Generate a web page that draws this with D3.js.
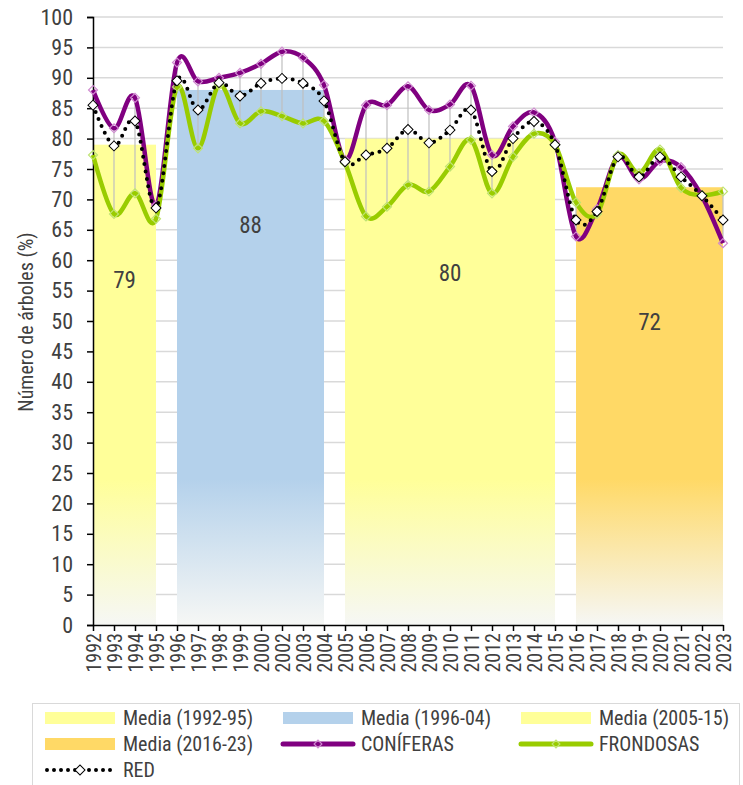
<!DOCTYPE html>
<html>
<head>
<meta charset="utf-8">
<script src="https://cdn.jsdelivr.net/npm/d3@7"></script>
<style>
  body { margin: 0; background: #fff; }
  svg text { font-family: "Liberation Sans Narrow", "Arial Narrow", "Roboto Condensed", sans-serif; fill: #404040; }
</style>
</head>
<body>
<svg id="chart" width="743" height="785"></svg>
<script>
// categories (no 2001 in the series)
var years = ["1992","1993","1994","1995","1996","1997","1998","1999","2000",
  "2002","2003","2004","2005","2006","2007","2008","2009","2010","2011","2012",
  "2013","2014","2015","2016","2017","2018","2019","2020","2021","2022","2023"];

var coniferas = [88, 81.7, 86.7, 69, 92.5, 89.4, 90, 90.8, 92.3,
  94.3, 93.3, 88.8, 76.5, 85.5, 85.5, 88.6, 84.7, 85.6, 88.7, 77.3,
  82, 84.3, 79.5, 63.9, 68.4, 77, 73.3, 76.3, 75.3, 70.5, 62.8];

var frondosas = [77.3, 67.6, 71, 66.8, 88.5, 78.4, 88.8, 82.5, 84.5,
  83.7, 82.5, 82.9, 76, 67.2, 68.8, 72.4, 71.3, 75.4, 79.8, 71,
  77, 80.8, 79, 69.5, 67.6, 77.3, 74.3, 78.2, 71.9, 70.7, 71.3];

var red = [85.5, 78.8, 82.9, 68.6, 89.5, 84.7, 89.2, 87, 89.1,
  89.9, 89.1, 86.2, 76.2, 77.3, 78.4, 81.5, 79.3, 81.4, 84.7, 74.6,
  80, 82.8, 79, 66.6, 68, 77, 73.7, 77, 73.7, 70.6, 66.6];

// period means
var mediaLabels = ["Media (1992-95)", "Media (1996-04)", "Media (2005-15)", "Media (2016-23)"];
var mediaValues = [79, 88, 80, 72];
var mediaStart = ["1992", "1996", "2005", "2016"];
var mediaEnd = ["1995", "2004", "2015", "2023"];
var mediaColors = ["#FFFF99", "#B4D1EB", "#FFFF99", "#FFD966"];

var yTicks = d3.range(0, 101, 5);

var svg = d3.select("#chart");

var x = d3.scalePoint().domain(years).range([93, 723]);
var y = d3.scaleLinear().domain([0, 100]).range([625, 17]);

// gradients for the mean blocks (solid on top, fading to white near the base)
var defs = svg.append("defs");
mediaColors.forEach(function(c, i) {
  var grad = defs.append("linearGradient")
    .attr("id", "grad" + i)
    .attr("gradientUnits", "userSpaceOnUse")
    .attr("x1", 0).attr("x2", 0)
    .attr("y1", y(24)).attr("y2", y(0));
  grad.append("stop").attr("offset", 0).attr("stop-color", c);
  grad.append("stop").attr("offset", 1).attr("stop-color", "#F6F7F5");
});

// gridlines
svg.append("g")
  .selectAll("line")
  .data(yTicks.slice(1))
  .join("line")
  .attr("x1", x(years[0])).attr("x2", x(years[years.length - 1]))
  .attr("y1", d => y(d)).attr("y2", d => y(d))
  .attr("stroke", "#D9D9D9").attr("stroke-width", 1.5);

// mean blocks
svg.append("g")
  .selectAll("rect")
  .data(mediaValues)
  .join("rect")
  .attr("x", (d, i) => x(mediaStart[i]))
  .attr("width", (d, i) => x(mediaEnd[i]) - x(mediaStart[i]))
  .attr("y", d => y(d))
  .attr("height", d => y(0) - y(d))
  .attr("fill", (d, i) => "url(#grad" + i + ")");

// mean labels
svg.append("g")
  .selectAll("text")
  .data(mediaValues)
  .join("text")
  .attr("x", (d, i) => (x(mediaStart[i]) + x(mediaEnd[i])) / 2)
  .attr("y", d => y(d - 22.5))
  .attr("text-anchor", "middle")
  .attr("dominant-baseline", "middle")
  .style("font-size", "23px")
  .text(d => d);

// high-low lines
svg.append("g")
  .selectAll("line")
  .data(years)
  .join("line")
  .attr("x1", d => x(d)).attr("x2", d => x(d))
  .attr("y1", (d, i) => y(Math.max(coniferas[i], frondosas[i], red[i])))
  .attr("y2", (d, i) => y(Math.min(coniferas[i], frondosas[i], red[i])))
  .attr("stroke", "#BFBFBF").attr("stroke-width", 1.2);

// axes
var yAxis = svg.append("g")
  .attr("transform", "translate(" + x(years[0]) + ",0)")
  .call(d3.axisLeft(y).tickValues(yTicks).tickSize(6).tickPadding(14));
yAxis.select(".domain").attr("stroke", "#000").attr("stroke-width", 1.5);
yAxis.selectAll(".tick line").attr("stroke", "#000").attr("stroke-width", 1.5);
yAxis.selectAll("text").style("font-size", "22px").attr("fill", "#404040");

var xAxis = svg.append("g")
  .attr("transform", "translate(0," + y(0) + ")")
  .call(d3.axisBottom(x).tickSize(6).tickSizeOuter(0));
xAxis.select(".domain").attr("stroke", "#000").attr("stroke-width", 1.5);
xAxis.selectAll(".tick line").attr("stroke", "#000").attr("stroke-width", 1.5);
xAxis.selectAll("text")
  .style("font-size", "20px").attr("fill", "#404040")
  .attr("text-anchor", "end")
  .attr("transform", "rotate(-90)")
  .attr("x", -8).attr("y", 0).attr("dy", "0.35em");

// axis title
svg.append("text")
  .attr("transform", "translate(28,322) rotate(-90)")
  .attr("text-anchor", "middle")
  .attr("dominant-baseline", "middle")
  .style("font-size", "20px")
  .text("Número de árboles (%)");

// series lines
var line = d3.line()
  .x((d, i) => x(years[i]))
  .y(d => y(d))
  .curve(d3.curveCatmullRom.alpha(0));

function diamond(g, data, size, stroke, fill, sw) {
  g.selectAll("path.mk")
    .data(data)
    .join("path")
    .attr("class", "mk")
    .attr("transform", (d, i) => "translate(" + x(years[i]) + "," + y(d) + ") rotate(45)")
    .attr("d", d3.symbol(d3.symbolSquare, size)())
    .attr("fill", fill).attr("stroke", stroke).attr("stroke-width", sw);
}

var gCon = svg.append("g");
gCon.append("path").attr("d", line(coniferas))
  .attr("fill", "none").attr("stroke", "#800080").attr("stroke-width", 4.5);
diamond(gCon, coniferas, 40, "#D08AD0", "none", 1.2);

var gFro = svg.append("g");
gFro.append("path").attr("d", line(frondosas))
  .attr("fill", "none").attr("stroke", "#99CC00").attr("stroke-width", 4.5);
diamond(gFro, frondosas, 40, "#BFE373", "none", 1.2);

var gRed = svg.append("g");
gRed.append("path").attr("d", line(red))
  .attr("fill", "none").attr("stroke", "#000").attr("stroke-width", 4)
  .attr("stroke-linecap", "round").attr("stroke-dasharray", "0 7.5");
diamond(gRed, red, 50, "#000", "#fff", 1);

// legend
var legend = svg.append("g");
legend.append("rect")
  .attr("x", 32.5).attr("y", 703.5).attr("width", 707).attr("height", 90)
  .attr("fill", "#fff").attr("stroke", "#D9D9D9");

var legendItems = [
  {name: mediaLabels[0], type: "area", color: mediaColors[0]},
  {name: mediaLabels[1], type: "area", color: mediaColors[1]},
  {name: mediaLabels[2], type: "area", color: mediaColors[2]},
  {name: mediaLabels[3], type: "area", color: mediaColors[3]},
  {name: "CONÍFERAS", type: "line", color: "#800080", marker: "#D08AD0"},
  {name: "FRONDOSAS", type: "line", color: "#99CC00", marker: "#BFE373"},
  {name: "RED", type: "dots", color: "#000"}
];
var colX = [45, 283, 521];
var rowY = [718, 744, 770];

legendItems.forEach(function(it, i) {
  var lx = colX[i % 3], ly = rowY[Math.floor(i / 3)];
  var g = legend.append("g").attr("transform", "translate(" + lx + "," + ly + ")");
  if (it.type === "area") {
    g.append("rect").attr("x", 0).attr("y", -6).attr("width", 70).attr("height", 12)
      .attr("fill", it.color);
  } else if (it.type === "line") {
    g.append("line").attr("x1", 0).attr("x2", 70).attr("y1", 0).attr("y2", 0)
      .attr("stroke", it.color).attr("stroke-width", 5).attr("stroke-linecap", "round");
    g.append("path").attr("transform", "translate(35,0) rotate(45)")
      .attr("d", d3.symbol(d3.symbolSquare, 30)())
      .attr("fill", "none").attr("stroke", it.marker).attr("stroke-width", 1.2);
  } else {
    g.append("line").attr("x1", 2).attr("x2", 70).attr("y1", 0).attr("y2", 0)
      .attr("stroke", "#000").attr("stroke-width", 4)
      .attr("stroke-linecap", "round").attr("stroke-dasharray", "0 7");
    g.append("path").attr("transform", "translate(35,0) rotate(45)")
      .attr("d", d3.symbol(d3.symbolSquare, 50)())
      .attr("fill", "#fff").attr("stroke", "#000").attr("stroke-width", 1);
  }
  g.append("text").attr("x", 78).attr("y", 0).attr("dy", "0.35em")
    .style("font-size", "20px").text(it.name);
});
</script>
</body>
</html>
